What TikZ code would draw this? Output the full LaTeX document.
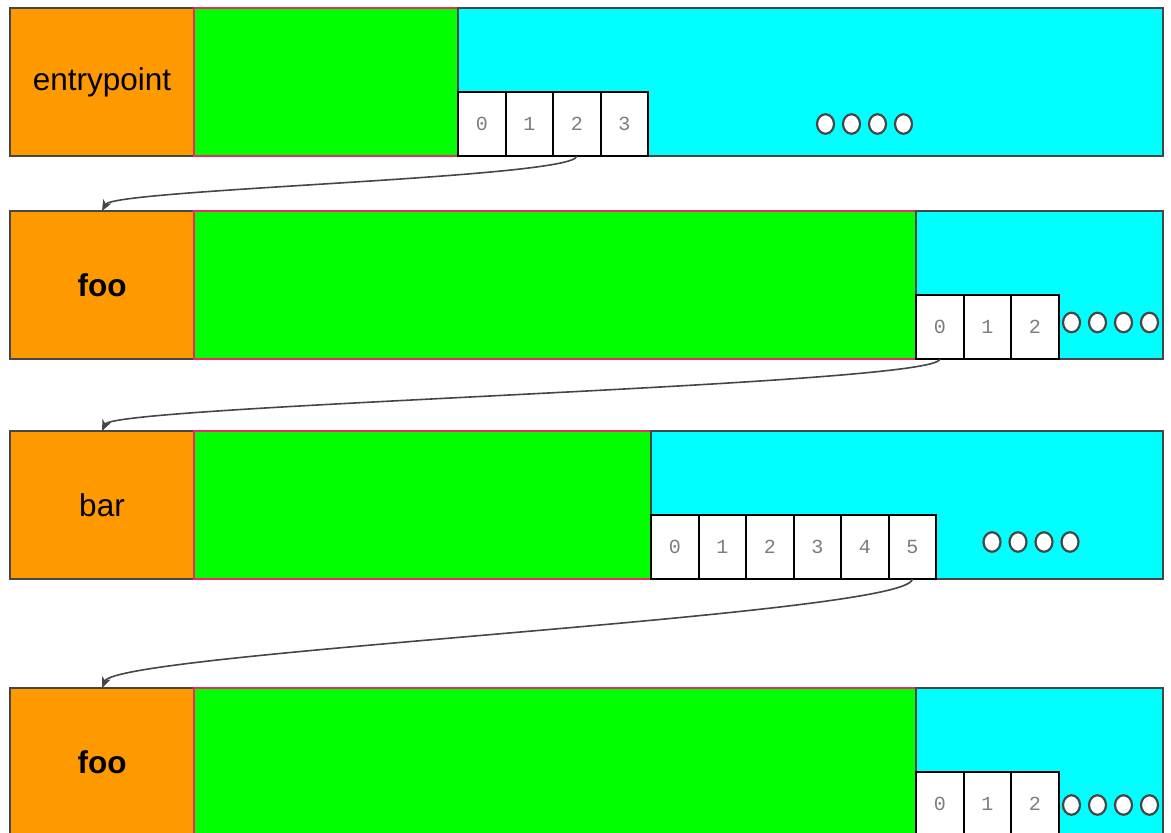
\documentclass[tikz,border=0pt]{standalone}
\usepackage{fontspec}
\setmainfont{Liberation Sans}
\newfontfamily\cellmono{Liberation Mono}
\usetikzlibrary{arrows.meta, positioning, shapes.geometric}
\definecolor{fnorange}{RGB}{255,153,0}
\definecolor{bodygreen}{RGB}{0,255,0}
\definecolor{tailcyan}{RGB}{0,255,255}
\definecolor{bodyred}{RGB}{240,40,100}
\definecolor{framegray}{RGB}{70,70,70}
\definecolor{digitgray}{RGB}{125,125,125}

\begin{document}
\begin{tikzpicture}[x=1pt, y=-1pt,
    fname/.style={rectangle, draw=framegray, fill=fnorange,
                  line width=1.5pt, minimum width=184pt,
                  minimum height=148pt, anchor=north west,
                  outer sep=0pt, inner sep=0pt,
                  font=\fontsize{31.5}{36}\selectfont},
    body/.style={rectangle, draw=bodyred, fill=bodygreen,
                 line width=1.5pt, minimum height=148pt,
                 outer sep=0pt, inner sep=0pt},
    tail/.style={rectangle, draw=framegray, fill=tailcyan,
                 line width=1.5pt, minimum height=148pt,
                 outer sep=0pt, inner sep=0pt},
    cell/.style={rectangle, draw=black, fill=white,
                 line width=2pt, minimum width=47.5pt,
                 minimum height=64pt, anchor=north west,
                 outer sep=0pt, inner sep=0pt, text=digitgray,
                 font=\cellmono\fontsize{20}{24}\selectfont},
    dot/.style={ellipse, draw=framegray, fill=white,
                line width=2.2pt, minimum width=17pt,
                minimum height=19.5pt, inner sep=0pt,
                outer sep=0pt},
    link/.style={-{Stealth[length=11pt, width=9pt, inset=3pt]},
                 draw=framegray, line width=1.6pt}
]
    \useasboundingbox (0,0) rectangle (1171,833);

    % entrypoint
    \node[fname] (entry) at (10,8) {entrypoint};
    \node[body, minimum width=264pt, right=0pt of entry] (entrybody) {};
    \node[tail, minimum width=705pt, right=0pt of entrybody] (entrytail) {};
    \node[cell] (e0) at (458,92) {0};
    \node[cell, right=0pt of e0] (e1) {1};
    \node[cell, right=0pt of e1] (e2) {2};
    \node[cell, right=0pt of e2] (e3) {3};
    \node[dot] (ed1) at (825.5,124) {};
    \node[dot, right=9pt of ed1] (ed2) {};
    \node[dot, right=9pt of ed2] (ed3) {};
    \node[dot, right=9pt of ed3] (ed4) {};

    % foo
    \node[fname] (foo) at (10,211) {\bfseries foo};
    \node[body, minimum width=722pt, right=0pt of foo] (foobody) {};
    \node[tail, minimum width=247pt, right=0pt of foobody] (footail) {};
    \node[cell] (f0) at (916,295) {0};
    \node[cell, right=0pt of f0] (f1) {1};
    \node[cell, right=0pt of f1] (f2) {2};
    \node[dot] (fd1) at (1071.5,322.5) {};
    \node[dot, right=9pt of fd1] (fd2) {};
    \node[dot, right=9pt of fd2] (fd3) {};
    \node[dot, right=9pt of fd3] (fd4) {};

    % bar
    \node[fname] (bar) at (10,431) {bar};
    \node[body, minimum width=457pt, right=0pt of bar] (barbody) {};
    \node[tail, minimum width=512pt, right=0pt of barbody] (bartail) {};
    \node[cell] (b0) at (651,515) {0};
    \node[cell, right=0pt of b0] (b1) {1};
    \node[cell, right=0pt of b1] (b2) {2};
    \node[cell, right=0pt of b2] (b3) {3};
    \node[cell, right=0pt of b3] (b4) {4};
    \node[cell, right=0pt of b4] (b5) {5};
    \node[dot] (bd1) at (992,542) {};
    \node[dot, right=9pt of bd1] (bd2) {};
    \node[dot, right=9pt of bd2] (bd3) {};
    \node[dot, right=9pt of bd3] (bd4) {};

    % foo again
    \node[fname] (fooagain) at (10,688) {\bfseries foo};
    \node[body, minimum width=722pt, right=0pt of fooagain] (fooagainbody) {};
    \node[tail, minimum width=247pt, right=0pt of fooagainbody] (fooagaintail) {};
    \node[cell] (g0) at (916,772) {0};
    \node[cell, right=0pt of g0] (g1) {1};
    \node[cell, right=0pt of g1] (g2) {2};
    \node[dot] (gd1) at (1071.5,805) {};
    \node[dot, right=9pt of gd1] (gd2) {};
    \node[dot, right=9pt of gd2] (gd3) {};
    \node[dot, right=9pt of gd3] (gd4) {};

    \draw[link] (e2.south) .. controls +(0,22) and +(12,-22) .. (foo.north);
    \draw[link] (f0.south) .. controls +(0,26) and +(12,-26) .. (bar.north);
    \draw[link] (b5.south) .. controls +(0,36) and +(15,-36) .. (fooagain.north);
\end{tikzpicture}
\end{document}
